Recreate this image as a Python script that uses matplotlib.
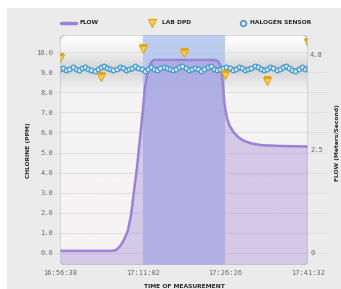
import numpy as np
import matplotlib
matplotlib.use("Agg")
import matplotlib.pyplot as plt
from matplotlib.patches import FancyBboxPatch, Rectangle
from matplotlib.lines import Line2D
from matplotlib.colors import LinearSegmentedColormap

# --- dados -------------------------------------------------------------------
tempos = ["16:56:38", "17:11:02", "17:26:26", "17:41:32"]
cloro_ticks = [0, 1, 2, 3, 4, 5, 6, 7, 8, 9, 10]
fluxo_ticks = [0, 2.5, 4.8]

# vazao (m/s), x em unidades de intervalo entre marcas de tempo
fluxo_x = [0.0, 0.62, 0.68, 0.73, 0.78, 0.82, 0.86, 0.89, 0.93, 0.97, 1.0, 1.03,
           1.06, 1.09, 1.13, 1.88, 1.92, 1.95, 1.97, 1.99, 2.02, 2.05, 2.1, 2.16,
           2.22, 2.32, 2.45, 2.7, 3.0]
fluxo_ms = [0.05, 0.05, 0.07, 0.17, 0.34, 0.53, 0.92, 1.41, 2.04, 2.81, 3.40, 4.03,
            4.37, 4.56, 4.66, 4.66, 4.61, 4.46, 4.07, 3.59, 3.25, 3.08, 2.91, 2.79,
            2.71, 2.64, 2.60, 2.58, 2.57]

# laboratorio DPD (ppm)
dpd_x = [0.0, 0.5, 1.0, 1.5, 2.0, 2.5, 3.0]
dpd_ppm = [9.7, 8.75, 10.15, 9.95, 8.85, 8.55, 10.45]

# sensor halogenio (ppm), amostras igualmente espacadas no tempo
sensor_ppm = [9.15, 9.2, 9.12, 9.18, 9.25, 9.16, 9.1, 9.2, 9.28, 9.18,
              9.12, 9.08, 9.15, 9.24, 9.3, 9.2, 9.14, 9.1, 9.18, 9.26,
              9.2, 9.12, 9.16, 9.22, 9.3, 9.22, 9.14, 9.08, 9.16, 9.24,
              9.18, 9.12, 9.2, 9.28, 9.22, 9.15, 9.1, 9.18, 9.25, 9.3,
              9.2, 9.12, 9.16, 9.22, 9.14, 9.08, 9.15, 9.25, 9.3, 9.18,
              9.1, 9.14, 9.22, 9.28, 9.2, 9.12, 9.18, 9.26, 9.2, 9.1,
              9.14, 9.22, 9.3, 9.24, 9.15, 9.1, 9.18, 9.26, 9.2, 9.12,
              9.16, 9.24, 9.3, 9.2, 9.12, 9.08, 9.16, 9.24, 9.18, 9.22]
sensor_x = np.linspace(0, 3, len(sensor_ppm))

YLIM = (-0.6, 10.85)
ESCALA = 0.485          # m/s por ppm no eixo direito

W, H = 341, 289
fig = plt.figure(figsize=(W / 100, H / 100), dpi=100)
fig.patch.set_facecolor("white")
fig.add_artist(Rectangle((7 / W, -0.5), 2, 1.5 - 8 / H, transform=fig.transFigure,
                         facecolor="#ebebeb", edgecolor="none", zorder=-10))

ax = fig.add_axes([60 / W, 1 - 265 / H, 248 / W, 230 / H])
ax.patch.set_visible(False)
for s in ax.spines.values():
    s.set_visible(False)
ax.set_xlim(0, 3)
ax.set_ylim(*YLIM)
ax.autoscale(False)

ax2 = ax.twinx()
ax2.set_ylim(YLIM[0] * ESCALA, YLIM[1] * ESCALA)
for s in ax2.spines.values():
    s.set_visible(False)

caixa = FancyBboxPatch((0, 0), 1, 1, boxstyle="round,pad=0,rounding_size=0.025",
                       transform=ax.transAxes, facecolor="none",
                       edgecolor="#b9b9c9", lw=0.8, zorder=6)
ax.add_patch(caixa)

# fundo com sombra cinza em volta do sensor
cmap = LinearSegmentedColormap.from_list(
    "fundo", [(0.0, "#f6f4f3"), (0.76, "#f4f3f3"), (0.856, "#d4d4d4"),
              (0.935, "#f2f2f2"), (1.0, "#ffffff")])
img = ax.imshow(np.linspace(0, 1, 300).reshape(-1, 1), origin="lower",
                extent=[0, 3, YLIM[0], YLIM[1]], aspect="auto", cmap=cmap,
                vmin=0, vmax=1, zorder=0, interpolation="bilinear")
img.set_clip_path(caixa)

for v in cloro_ticks:
    ax.axhline(v, xmin=-0.02, xmax=1.075, color="#dcdcdc", lw=0.6,
               clip_on=False, zorder=0.5)

faixa = ax.axvspan(1, 2, color="#b4c8ee", alpha=0.9, lw=0, zorder=1)
faixa.set_clip_path(caixa)

area = ax.fill_between(fluxo_x, fluxo_ms, -2, transform=ax2.transData,
                       color="#9a7fd0", alpha=0.36, lw=0, zorder=2)
area.set_clip_path(caixa)
linha, = ax.plot(fluxo_x, fluxo_ms, transform=ax2.transData, color="#9b82d8",
                 lw=1.8, zorder=3, solid_capstyle="round")
linha.set_clip_path(caixa)

sens, = ax.plot(sensor_x, sensor_ppm, "-o", color="#3d97d3", lw=1.0, ms=3.4,
                mfc="#cfe9f7", mec="#3a93d0", mew=0.8, zorder=4)
sens.set_clip_path(caixa)

dpd, = ax.plot(dpd_x, dpd_ppm, "v", ls="none", ms=5.5, mfc="#f6d743",
               mec="#e3a21a", mew=0.8, zorder=5)
dpd.set_clip_path(caixa)

# eixos
fmono = dict(family="DejaVu Sans Mono", size=5, color="#6a6a6a")
ax.set_xticks(range(len(tempos)))
ax.set_xticklabels(tempos, **fmono)
ax.set_yticks(cloro_ticks)
ax.set_yticklabels([f"{v:.1f}" for v in cloro_ticks], **fmono)
ax.tick_params(length=0, pad=5)
ax.tick_params(axis="x", pad=3.3)
ax2.set_yticks(fluxo_ticks)
ax2.set_yticklabels(["0", "2.5", "4.8"], **fmono)
ax2.tick_params(length=0, pad=1.5)

fbold = dict(fontsize=4.3, fontweight="bold", color="#2a2a2a")
fig.text(29 / W, 1 - 150 / H, "CHLORINE (PPM)", rotation=90, ha="center",
         va="center", **fbold)
fig.text(337 / W, 1 - 143 / H, "FLOW (Meters/Second)", rotation=90, ha="center",
         va="center", **fbold)
fig.text(184 / W, 1 - 287 / H, "TIME OF MEASUREMENT", ha="center", va="center",
         **fbold)

# legenda manual no topo
yl = 1 - 23 / H
fig.add_artist(Line2D([61 / W, 76 / W], [yl, yl], transform=fig.transFigure,
                      color="#9b82d8", lw=2.5, solid_capstyle="round"))
fig.text(80 / W, yl, "FLOW", ha="left", va="center", **fbold)
fig.add_artist(Line2D([152 / W], [yl], transform=fig.transFigure, marker="v",
                      ms=5.5, mfc="#f6d743", mec="#e3a21a", mew=0.8, ls="none"))
fig.text(162 / W, yl, "LAB DPD", ha="left", va="center", **fbold)
fig.add_artist(Line2D([243 / W], [yl], transform=fig.transFigure, marker="o",
                      ms=4, mfc="white", mec="#3d97d3", mew=1.2, ls="none"))
fig.text(250 / W, yl, "HALOGEN SENSOR", ha="left", va="center", **fbold)

fig.savefig("out.png", dpi=100)
